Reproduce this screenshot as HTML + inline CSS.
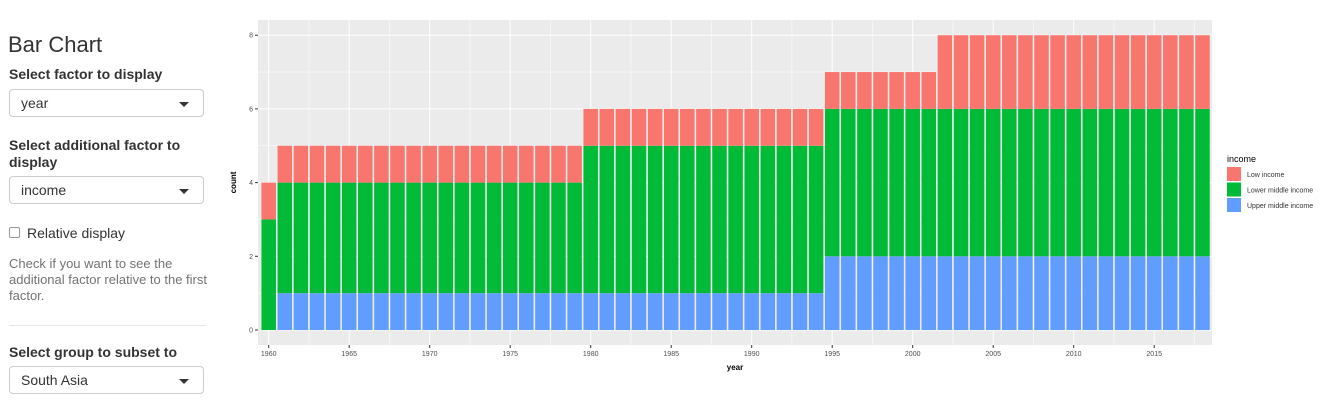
<!DOCTYPE html>
<html><head><meta charset="utf-8"><style>
body{margin:0;width:1332px;height:417px;background:#fff;font-family:"Liberation Sans",Arial,sans-serif;color:#333;position:relative;overflow:hidden}
.a{position:absolute}
.lbl{font-weight:bold;font-size:14px;left:9px;line-height:17px}
.sel{left:9px;width:195px;height:28px;border:1px solid #ccc;border-radius:4px;font-size:14px;box-sizing:border-box;padding:6px 11px;line-height:15px}
.sel:after{content:"";position:absolute;right:14px;top:12px;border-left:5px solid transparent;border-right:5px solid transparent;border-top:5px solid #333}
.help{left:9px;width:200px;font-size:13px;color:#737373;line-height:16px}
</style></head><body>
<div class="a" style="left:8px;top:32px;font-size:22px;font-weight:normal">Bar Chart</div>
<div class="a lbl" style="top:66px">Select factor to display</div>
<div class="a sel" style="top:89px">year</div>
<div class="a lbl" style="top:137px;width:190px">Select additional factor to display</div>
<div class="a sel" style="top:176px">income</div>
<div class="a" style="left:9px;top:227px;width:11px;height:11px;border:1px solid #999;border-radius:2px;box-sizing:border-box"></div>
<div class="a" style="left:27px;top:225px;font-size:14px">Relative display</div>
<div class="a help" style="top:256px">Check if you want to see the additional factor relative to the first factor.</div>
<div class="a" style="left:9px;top:325px;width:197px;height:1px;background:#e5e5e5"></div>
<div class="a lbl" style="top:344px">Select group to subset to</div>
<div class="a sel" style="top:366px">South Asia</div>
<svg class="a" style="left:0;top:0" width="1332" height="417" id="chart"></svg>
<script>
const years=[];for(let y=1960;y<=2018;y++)years.push(y);
const lowIncome=[1].concat(Array(19).fill(1),Array(15).fill(1),Array(7).fill(1),Array(17).fill(2));
const lowerMiddle=[3].concat(Array(19).fill(3),Array(15).fill(4),Array(7).fill(4),Array(17).fill(4));
const upperMiddle=[0].concat(Array(19).fill(1),Array(15).fill(1),Array(7).fill(2),Array(17).fill(2));
const yTicks=[0,2,4,6,8];
const xTicks=[1960,1965,1970,1975,1980,1985,1990,1995,2000,2005,2010,2015];
const seriesNames=["Low income","Lower middle income","Upper middle income"];
const colors=["#F8766D","#00BA38","#619CFF"];
const NS="http://www.w3.org/2000/svg",svg=document.getElementById('chart');
const P={l:258,r:1212,t:20,b:345};
const xs=y=>268.7+(y-1960)*16.1, ys=v=>330-v*36.85;
function el(t,a,p){const e=document.createElementNS(NS,t);for(const k in a)e.setAttribute(k,a[k]);(p||svg).appendChild(e);return e;}
const bg=el('rect',{x:P.l,y:P.t,width:P.r-P.l,height:P.b-P.t,fill:'#EBEBEB'});


for(let v=1;v<8;v+=2)el('line',{x1:P.l,x2:P.r,y1:ys(v),y2:ys(v),stroke:'#fff','stroke-width':0.5});
for(let i=0;i<xTicks.length;i++){const x=xTicks[i]+2.5;if(x<2019)el('line',{x1:xs(x),x2:xs(x),y1:P.t,y2:P.b,stroke:'#fff','stroke-width':0.5});}
yTicks.forEach(v=>{el('line',{x1:P.l,x2:P.r,y1:ys(v),y2:ys(v),stroke:'#fff','stroke-width':1});
el('line',{x1:P.l-3,x2:P.l,y1:ys(v),y2:ys(v),stroke:'#333'});
const t=el('text',{x:P.l-5,y:ys(v)+2.5,'text-anchor':'end','font-size':7,fill:'#4D4D4D'});t.textContent=v;

});
xTicks.forEach(y=>{el('line',{x1:xs(y),x2:xs(y),y1:P.t,y2:P.b,stroke:'#fff','stroke-width':1});
el('line',{x1:xs(y),x2:xs(y),y1:P.b,y2:P.b+3,stroke:'#333'});
const t=el('text',{x:xs(y),y:P.b+11,'text-anchor':'middle','font-size':7,fill:'#4D4D4D'});t.textContent=y;

});
const bw=14.5;
years.forEach((yr,i)=>{let base=0;[upperMiddle,lowerMiddle,lowIncome].forEach((s,k)=>{const v=s[i];if(v>0){
const r=el('rect',{x:xs(yr)-bw/2,y:ys(base+v),width:bw,height:ys(base)-ys(base+v),fill:colors[2-k]});

}base+=v;});});
const xt=el('text',{x:(P.l+P.r)/2,y:370,'text-anchor':'middle','font-size':8,'font-weight':'bold',fill:'#000'});xt.textContent='year';


const yt=el('text',{x:0,y:0,transform:`translate(236,${(P.t+P.b)/2}) rotate(-90)`,'text-anchor':'middle','font-size':8,'font-weight':'bold',fill:'#000'});yt.textContent='count';


const lt=el('text',{x:1227,y:162,'font-size':9,fill:'#000'});lt.textContent='income';


seriesNames.forEach((n,k)=>{const y=167+k*15.5;
const r=el('rect',{x:1227,y:y,width:14,height:14,fill:colors[k]});


const t=el('text',{x:1247,y:y+10,'font-size':7,fill:'#333'});t.textContent=n;

});
</script>
</body></html>
